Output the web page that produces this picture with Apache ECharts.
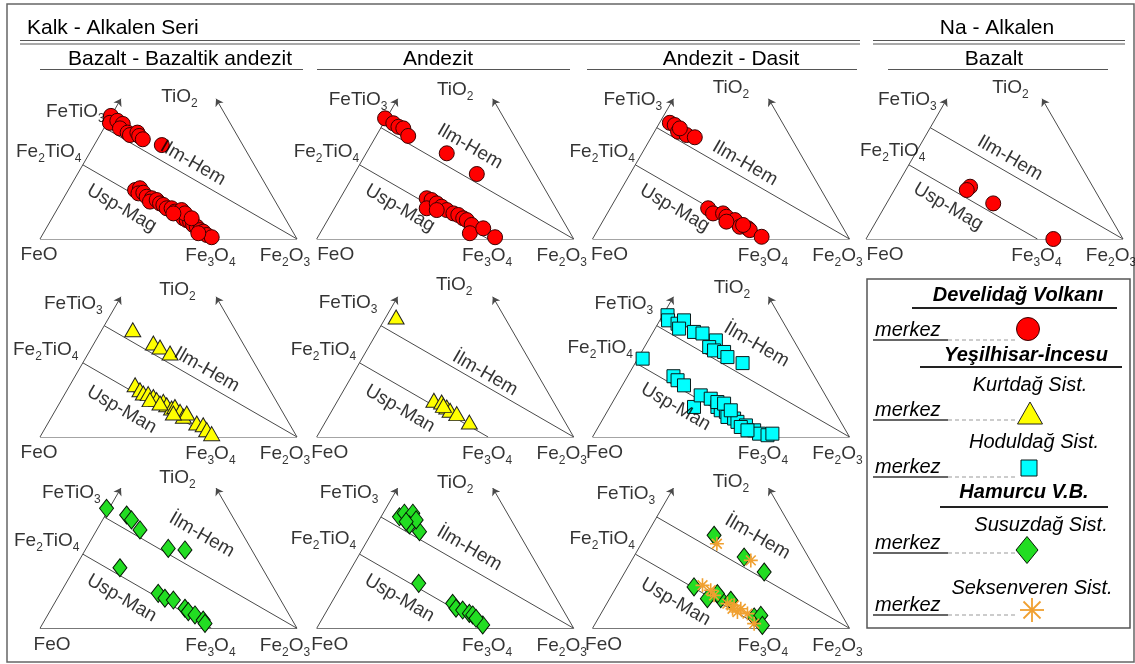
<!DOCTYPE html>
<html><head><meta charset="utf-8">
<script src="https://cdn.jsdelivr.net/npm/echarts@6/dist/echarts.min.js"></script>
<style>html,body{margin:0;padding:0;background:#fff}#c{width:1135px;height:664px}</style>
</head><body><div id="c"></div><script>
// ---- DATA (x = Fe2O3 + TiO2/2, y = TiO2; ternary FeO-Fe2O3-TiO2, mol %) ----
const vertexNames = ['FeO', 'Fe3O4', 'Fe2O3', 'Fe2TiO4', 'FeTiO3', 'TiO2'];
const vertexComp = [[0, 0], [66.7, 0], [100, 0], [16.7, 33.3], [25, 50], [50, 63]];
const seriesLines = [[[0, 0], [100, 0]], [[25, 50], [100, 0]], [[16.7, 33.3], [66.7, 0]]];
const axisArrows = [[[0, 0], [31.5, 63]], [[100, 0], [68.5, 63]]];

const bazaltDevelidag = [[27.6,55.3],[27.2,52.2],[30.1,53.1],[32.2,51.7],[31.1,49.7],[34.1,47.8],[35.0,46.7],[37.9,47.8],[38.6,46.3],[40.0,44.8],[47.4,42.2],
 [37.0,22.0],[38.9,22.8],[38.3,20.5],[40.2,20.8],[41.5,19.0],[43.5,18.3],[42.8,16.8],[45.4,17.5],[46.7,16.0],[48.0,15.3],[49.3,13.8],[51.2,13.8],[52.5,12.3],[53.8,11.5],[55.1,10.8],[55.8,9.3],[57.1,8.5],[58.4,7.8],[59.6,6.3],[61.0,5.5],[62.3,4.0],[63.5,3.3],[64.9,1.8],[66.8,0.8],[55.1,13.0],[56.4,11.5],[59.0,9.3],[51.9,11.5],[61.6,2.6]];
const andezitDevelidag = [[26.6,54.2],[29.8,52.0],[31.8,50.4],[33.7,49.7],[35.6,46.3],[50.6,38.5],[62.3,29.2],[42.8,18.3],[44.7,17.5],[42.8,13.8],[46.7,16.0],[48.6,14.5],[50.6,13.0],[53.2,11.5],[55.1,10.8],[57.0,9.3],[58.4,8.5],[60.3,6.3],[59.6,2.6],[64.8,4.8],[69.4,0.8],[46.7,13.0]];
const andezitDasitDevelidag = [[30.1,52.2],[32.0,51.2],[33.3,48.2],[36.6,46.7],[39.8,45.7],[34.0,49.7],[45.0,13.8],[46.9,11.5],[50.8,11.5],[52.1,10.0],[55.4,8.5],[57.3,5.5],[60.5,4.8],[61.2,4.0],[65.8,1.0],[52.1,7.8],[58.6,6.3]];
const naBazaltDevelidag = [[40.5,23.5],[39.2,22.0],[49.5,16.0],[72.9,0.0]];
const bazaltKurtdag = [[36.1,48.2],[44.1,42.2],[46.7,40.4],[50.6,37.7],[37.0,23.5],[38.9,21.2],[40.2,19.8],[42.1,19.5],[44.1,18.2],[45.4,16.8],[48.0,16.0],[49.3,14.5],[51.2,13.0],[52.5,13.7],[54.5,11.5],[55.8,9.3],[57.1,10.8],[61.0,6.3],[63.5,5.5],[64.9,3.3],[66.8,1.5],[42.8,16.8],[46.7,15.3],[51.9,10.8]];
const andezitKurtdag = [[30.9,53.9],[45.6,16.5],[48.6,15.7],[50.6,13.5],[51.9,12.0],[54.5,10.5],[59.4,6.7],[49.3,14.2]];
const andezitDasitHoduldag = [[29.2,54.7],[29.4,52.4],[33.1,50.9],[35.6,52.4],[33.7,48.7],[39.5,47.2],[42.8,46.5],[48.0,43.4],[45.4,40.4],[47.3,38.9],[51.2,38.2],[52.5,35.9],[58.4,33.2],[19.5,35.2],[31.5,27.3],[33.1,25.5],[35.6,23.2],[39.5,13.5],[42.1,18.7],[46.0,17.2],[48.6,13.5],[49.9,12.0],[51.9,11.3],[52.5,9.0],[55.1,8.3],[56.4,6.8],[59.7,5.2],[62.9,3.0],[64.8,1.5],[68.1,0.8],[70.0,1.5],[48.6,15.7],[51.2,15.0],[53.8,12.0],[57.7,4.5],[60.3,3.0]];
const bazaltSusuzdag = [[25.9,53.9],[33.7,50.9],[35.6,48.7],[38.9,44.2],[49.9,35.9],[56.4,35.2],[31.1,27.2],[46.0,15.7],[48.6,13.5],[51.9,12.7],[56.4,9.0],[57.7,7.5],[60.3,6.0],[63.5,3.7],[64.2,2.2]];
const andezitSusuzdag = [[32.2,50.1],[34.1,51.7],[37.4,51.7],[36.1,46.4],[40.0,43.4],[38.7,48.7],[34.8,47.9],[39.7,20.2],[52.9,11.2],[54.2,9.0],[56.8,8.2],[59.4,6.7],[60.7,6.0],[64.6,1.5],[62.0,4.5]];
const andezitDasitSusuzdag = [[47.3,41.8],[59.0,32.0],[66.8,25.3],[39.5,18.6],[44.7,13.3],[49.9,13.3],[53.8,12.6],[62.9,5.1],[65.5,5.8],[66.1,1.3],[48.6,15.6]];
const andezitDasitSeksenveren = [[48.4,38.0],[61.6,30.5],[42.8,19.3],[46.0,17.1],[47.3,14.8],[55.1,10.3],[57.7,8.8],[56.4,7.3],[60.3,6.6],[62.9,2.1],[52.5,11.1],[54.5,8.8]];

const seriesTitles = ['Kalk - Alkalen Seri', 'Na - Alkalen'];
const columnTitles = ['Bazalt - Bazaltik andezit', 'Andezit', 'Andezit - Dasit', 'Bazalt'];

// ---- STYLE / LAYOUT ----
const FONT = '"Liberation Sans", Arial, sans-serif';
const TEXT = '#000', LINE = '#4a4a4a';
const COL_X = [40, 316.7, 592.5, 866], ROW_Y = [239, 437, 628.3], W = 257, H = 222.6;
const STY = {
  develidag: {symbol: 'circle', size: 15, color: '#ff0000', border: '#3a0000', bw: 1},
  kurtdag: {symbol: 'triangle', size: [16, 14], color: '#ffff00', border: '#222', bw: 1},
  hoduldag: {symbol: 'rect', size: 13, color: '#00ffff', border: '#0a1a1a', bw: 1},
  susuzdag: {symbol: 'diamond', size: [14, 18], color: '#22dd22', border: '#061806', bw: 1},
  seksenveren: {symbol: 'path://M0,-10L0,10M-10,0L10,0M-7,-7L7,7M-7,7L7,-7', size: 14, color: 'rgba(0,0,0,0)', border: '#f0a030', bw: 1.6}
};
const panels = [
  {r:0,c:0,sets:[['develidag',bazaltDevelidag]],ilmT:'Ilm-Hem',uspT:'Usp-Mag',ilm:[59.5,34.1],usp:[31.8,13.8],feo:-1,ft:[1,-16],f2:[-1,-13],tio:[11,-2]},
  {r:0,c:1,sets:[['develidag',andezitDevelidag]],ilmT:'Ilm-Hem',uspT:'Usp-Mag',ilm:[59.6,41.5],usp:[32.4,13.8],feo:19,ft:[7,-28],f2:[0,-13],tio:[10,-9]},
  {r:0,c:2,sets:[['develidag',andezitDasitDevelidag]],ilmT:'Ilm-Hem',uspT:'Usp-Mag',ilm:[59.3,34.0],usp:[32.0,13.8],feo:17,ft:[6,-28],f2:[0,-13],tio:[10,-11]},
  {r:0,c:3,sets:[['develidag',naBazaltDevelidag]],ilmT:'Ilm-Hem',uspT:'Usp-Mag',ilm:[56.0,36.3],usp:[32.0,14.5],feo:19,ft:[7,-28],f2:[17,-14],tio:[16,-11]},
  {r:1,c:0,sets:[['kurtdag',bazaltKurtdag]],ilmT:'Ilm-Hem',uspT:'Usp-Man',ilm:[64.9,30.2],usp:[31.8,12.3],feo:-1,ft:[-1,-22],f2:[-4,-13],tio:[9,-7]},
  {r:1,c:1,sets:[['kurtdag',andezitKurtdag]],ilmT:'İlm-Hem',uspT:'Usp-Man',ilm:[65.5,28.6],usp:[32.4,12.7],feo:13,ft:[-3,-23],f2:[-3,-13],tio:[9,-12]},
  {r:1,c:2,sets:[['hoduldag',andezitDasitHoduldag]],ilmT:'İlm-Hem',uspT:'Usp-Man',ilm:[63.8,41.5],usp:[32.4,13.5],feo:12,ft:[-3,-22],f2:[-2,-15],tio:[11,-9]},
  {r:2,c:0,sets:[['susuzdag',bazaltSusuzdag]],ilmT:'İlm-Hem',uspT:'Usp-Man',ilm:[62.9,41.9],usp:[31.8,13.5],feo:12,ft:[-3,-24],f2:[-3,-13],tio:[9,-10]},
  {r:2,c:1,sets:[['susuzdag',andezitSusuzdag]],ilmT:'İlm-Hem',uspT:'Usp-Man',ilm:[59.4,35.9],usp:[32.2,13.5],feo:13,ft:[-2,-24],f2:[-3,-15],tio:[10,-5]},
  {r:2,c:2,sets:[['susuzdag',andezitDasitSusuzdag],['seksenveren',andezitDasitSeksenveren]],ilmT:'İlm-Hem',uspT:'Usp-Man',ilm:[64.2,41.0],usp:[32.4,11.8],feo:11,ft:[-1,-23],f2:[0,-15],tio:[10,-6]}
];

const chem = s => s.replace(/([A-Za-z])(\d)/g, '$1{s|$2}');

const grids = [], xAxes = [], yAxes = [], series = [];
panels.forEach((p, i) => {
  grids.push({left: COL_X[p.c], top: ROW_Y[p.r] - H, width: W, height: H});
  xAxes.push({gridIndex: i, type: 'value', min: 0, max: 100, show: false});
  yAxes.push({gridIndex: i, type: 'value', min: 0, max: 100, show: false});
  const ax = {xAxisIndex: i, yAxisIndex: i, silent: true, animation: false};
  series.push(Object.assign({type: 'lines', coordinateSystem: 'cartesian2d', symbol: ['none', 'none'],
    lineStyle: {color: LINE, width: 1, opacity: 1}, data: seriesLines.map(c => ({coords: c})), z: 1}, ax));
  series.push(Object.assign({type: 'lines', coordinateSystem: 'cartesian2d', symbol: ['none', 'arrow'], symbolSize: 7,
    lineStyle: {color: LINE, width: 1, opacity: 1}, data: axisArrows.map(c => ({coords: c})), z: 1}, ax));
  p.sets.forEach(([k, d]) => {
    const s = STY[k];
    series.push(Object.assign({type: 'scatter', data: d, symbol: s.symbol, symbolSize: s.size, z: 3,
      itemStyle: {color: s.color, borderColor: s.border, borderWidth: s.bw, opacity: 1}}, ax));
  });
  const off = {FeO: ['inside', [p.feo, 16]], Fe3O4: ['inside', [-1, 17]], Fe2O3: ['inside', [-12, 17]],
    Fe2TiO4: ['left', p.f2], FeTiO3: ['left', p.ft], TiO2: ['inside', p.tio]};
  const lab = vertexNames.map((n, j) => ({value: vertexComp[j],
    label: {position: off[n][0], distance: 0, offset: off[n][1], formatter: chem(n)}}));
  lab.push({value: p.ilm, label: {position: 'inside', rotate: -30, formatter: p.ilmT}});
  lab.push({value: p.usp, label: {position: 'inside', rotate: -30, formatter: p.uspT}});
  series.push(Object.assign({type: 'scatter', symbol: 'circle', symbolSize: 1, z: 5,
    itemStyle: {color: 'rgba(0,0,0,0)'},
    label: {show: true, color: TEXT, fontFamily: FONT, fontSize: 19,
      rich: {s: {fontSize: 12, fontFamily: FONT, color: TEXT, padding: [14, 0, 0, 0]}}},
    data: lab}, ax));
});

// ---- graphic: frame, headers, legend ----
const g = [];
const txt = (x, y, t, font, align) => g.push({type: 'text', x, y, silent: true, z: 10,
  style: {text: t, font, fill: TEXT, textAlign: align || 'center', textVerticalAlign: 'middle', align: align || 'center', verticalAlign: 'middle'}});
const ln = (x1, y1, x2, y2, w, c, dash) => g.push({type: 'line', silent: true, z: 11,
  shape: {x1, y1, x2, y2}, style: {stroke: c, lineWidth: w, lineDash: dash || null}});
const hl = (x1, x2, y, w, c, dash) => ln(x1, y, x2, y, w, c, dash);
g.push({type: 'rect', silent: true, shape: {x: 7, y: 4, width: 1127, height: 658}, style: {fill: 'none', stroke: '#666', lineWidth: 1.5}});
const HF = '21px ' + FONT;
txt(27, 28, seriesTitles[0], HF, 'left');
txt(997, 28, seriesTitles[1], HF);
hl(20, 860, 40.5, 1.2, '#555'); hl(20, 860, 44, 1.2, '#555');
hl(873, 1125, 40.5, 1.2, '#555'); hl(873, 1125, 44, 1.2, '#555');
const colCx = [180, 438, 731, 994], ul = [[40, 303], [317, 570], [587, 857], [888, 1108]];
columnTitles.forEach((t, i) => { txt(colCx[i], 59, t, HF); hl(ul[i][0], ul[i][1], 69.5, 1.2, '#555'); });

// legend
g.push({type: 'rect', silent: true, shape: {x: 867, y: 279, width: 263, height: 349}, style: {fill: '#fff', stroke: '#555', lineWidth: 1.5}, z: 9});
const BI = 'italic bold 20px ' + FONT, IT = 'italic 20px ' + FONT;
const merkez = (y) => { txt(875, y, 'merkez', IT, 'left'); hl(873, 948, y + 10, 1.3, '#333'); hl(948, 1015, y + 10, 1, '#999', [4, 3]); };
txt(1018, 295, 'Develidağ Volkanı', BI); hl(912, 1117, 308, 2, '#222');
merkez(330);
g.push({type: 'circle', silent: true, z: 11, shape: {cx: 1028, cy: 329, r: 11.5}, style: {fill: '#ff0000', stroke: '#3a0000', lineWidth: 1}});
txt(1026, 355, 'Yeşilhisar-İncesu', BI); hl(920, 1122, 367, 2, '#222');
txt(1030, 385, 'Kurtdağ Sist.', IT);
merkez(410);
g.push({type: 'polygon', silent: true, z: 11, shape: {points: [[1017.5, 424], [1042.5, 424], [1030, 402]]}, style: {fill: '#ffff00', stroke: '#222', lineWidth: 1}});
txt(1034, 442, 'Hoduldağ Sist.', IT);
merkez(467);
g.push({type: 'rect', silent: true, z: 11, shape: {x: 1021, y: 460, width: 16, height: 16}, style: {fill: '#00ffff', stroke: '#0a1a1a', lineWidth: 1}});
txt(1024, 492, 'Hamurcu V.B.', BI); hl(940, 1108, 507, 2, '#222');
txt(1041, 525, 'Susuzdağ Sist.', IT);
merkez(543);
g.push({type: 'polygon', silent: true, z: 11, shape: {points: [[1027, 536.5], [1038, 550], [1027, 563.5], [1016, 550]]}, style: {fill: '#22dd22', stroke: '#061806', lineWidth: 1}});
txt(1032, 588, 'Seksenveren Sist.', IT);
merkez(605);
ln(1032, 598, 1032, 622, 1.8, '#f0a030'); ln(1020, 610, 1044, 610, 1.8, '#f0a030');
ln(1023.5, 601.5, 1040.5, 618.5, 1.8, '#f0a030'); ln(1023.5, 618.5, 1040.5, 601.5, 1.8, '#f0a030');

const chart = echarts.init(document.getElementById('c'), null, {renderer: 'canvas'});
chart.setOption({backgroundColor: '#fff', animation: false, grid: grids, xAxis: xAxes, yAxis: yAxes, series, graphic: {elements: g}});
</script></body></html>
